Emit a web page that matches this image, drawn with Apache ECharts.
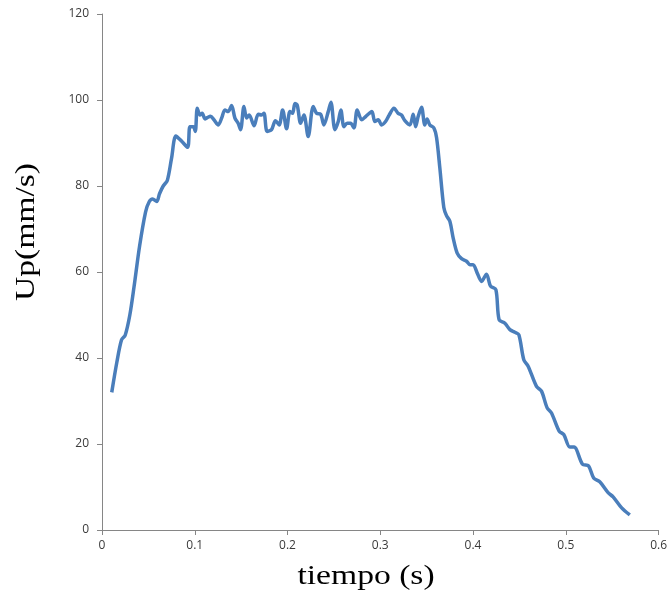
<!DOCTYPE html>
<html>
<head>
<meta charset="utf-8">
<script src="https://cdn.jsdelivr.net/npm/echarts@6/dist/echarts.min.js"></script>
<style>
html,body{margin:0;padding:0;background:#fff;}
#chart{width:670px;height:596px;}
</style>
</head>
<body>
<div id="chart"></div>
<script>
var xTitle = 'tiempo (s)';
var yTitle = 'Up(mm/s)';
var xTicks = [0, 0.1, 0.2, 0.3, 0.4, 0.5, 0.6];
var yTicks = [0, 20, 40, 60, 80, 100, 120];

var tiempo = [
0.0105,0.016,0.021,0.025,0.030,0.0345,0.0405,0.047,0.051,0.0545,0.059,0.062,0.066,0.0704,0.075,0.0797,
0.0859,0.0923,0.0948,0.0984,0.1006,0.1027,0.1056,0.108,0.111,0.1135,0.117,0.1207,0.1254,0.129,0.1325,
0.136,0.1397,0.1433,0.1468,0.1494,0.153,0.1559,0.1587,0.164,0.1684,0.172,0.1746,0.178,0.1828,0.187,
0.191,0.1947,0.199,0.2026,0.2055,0.208,0.2105,0.2141,0.2177,0.2223,0.2277,0.2313,0.2357,0.2392,0.2439,
0.2468,0.2511,0.2547,0.2575,0.2608,0.2643,0.268,0.2716,0.2751,0.2799,0.2845,0.2881,0.291,0.2942,0.2978,
0.3014,0.3057,0.3096,0.3147,0.3193,0.3229,0.3265,0.3319,0.3355,0.3381,0.3409,0.3445,0.348,0.3505,0.3534,
0.3578,0.3607,0.3642,0.3685,0.3714,0.375,0.3786,0.3829,0.3876,0.393,0.3966,0.4001,0.4044,0.4092,0.4145,
0.4189,0.4246,0.4281,0.4343,0.4397,0.4451,0.4494,0.4547,0.4594,0.4684,0.4738,0.4799,0.4846,0.4928,0.4978,
0.5043,0.5089,0.518,0.5245,0.530,0.5366,0.5456,0.551,0.56,0.569
];
var up = [
32.0,39.0,44.2,45.3,50.0,56.5,66.0,74.0,76.4,77.0,76.4,78.2,80.0,81.3,86.5,91.6,
90.4,89.0,93.8,93.8,92.7,98.1,96.5,96.9,95.6,95.9,96.2,95.4,94.2,95.8,97.7,
97.3,98.7,95.8,94.6,93.1,98.5,95.8,96.5,94.0,96.7,96.5,96.9,92.7,93.1,95.2,
94.2,97.7,93.3,97.3,96.9,99.2,98.8,94.6,96.5,91.5,98.5,96.9,96.7,94.2,97.3,
99.5,93.1,95.0,97.7,93.8,94.6,94.6,93.5,97.7,95.4,96.2,96.9,97.3,95.0,95.4,
94.2,95.0,96.5,98.1,96.9,96.5,95.2,94.2,96.7,93.8,96.2,98.3,94.2,95.6,94.2,
93.5,91.2,84.2,75.0,73.1,71.8,67.9,64.4,63.1,62.5,61.7,61.7,59.8,57.8,59.5,
56.7,55.9,48.9,48.1,46.6,46.0,45.4,39.6,38.1,33.4,32.3,28.4,27.2,23.0,22.2,
19.3,19.3,15.3,14.9,12.1,11.2,8.7,7.7,5.2,3.5
];

var seriesData = tiempo.map(function (t, i) { return [t, up[i]]; });

var chart = echarts.init(document.getElementById('chart'), null, {renderer: 'canvas'});
var axisColor = '#868686';
var labelStyle = {color: '#3a3a3a', fontSize: 12, fontFamily: 'Open Sans, Liberation Sans, sans-serif'};
var titleFont = '28px "Liberation Serif", serif';
chart.setOption({
  animation: false,
  backgroundColor: '#ffffff',
  grid: {left: 102, right: 11, top: 14, bottom: 66, containLabel: false},
  xAxis: {
    type: 'value',
    min: xTicks[0], max: xTicks[xTicks.length - 1], interval: 0.1,
    axisLine: {show: true, lineStyle: {color: axisColor, width: 1}},
    axisTick: {show: true, length: 5, lineStyle: {color: axisColor}},
    splitLine: {show: false},
    axisLabel: Object.assign({margin: 10, formatter: function (v) { return String(+v.toFixed(1)); }}, labelStyle)
  },
  yAxis: {
    type: 'value',
    min: yTicks[0], max: yTicks[yTicks.length - 1], interval: 20,
    axisLine: {show: true, lineStyle: {color: axisColor, width: 1}},
    axisTick: {show: true, length: 5, lineStyle: {color: axisColor}},
    splitLine: {show: false},
    axisLabel: Object.assign({margin: 13}, labelStyle)
  },
  graphic: [
    {type: 'text', x: 366, y: 577, scaleX: 1.2,
     style: {text: xTitle, fill: '#000', font: titleFont, textAlign: 'center', textVerticalAlign: 'middle'}},
    {type: 'text', x: 27, y: 232, rotation: Math.PI / 2, scaleX: 1.2,
     style: {text: yTitle, fill: '#000', font: titleFont, textAlign: 'center', textVerticalAlign: 'middle'}}
  ],
  series: [{
    type: 'line',
    data: seriesData,
    showSymbol: false,
    smooth: 0.3,
    lineStyle: {color: '#4a7ebb', width: 3.5},
    itemStyle: {color: '#4a7ebb'}
  }]
});
</script>
</body>
</html>
